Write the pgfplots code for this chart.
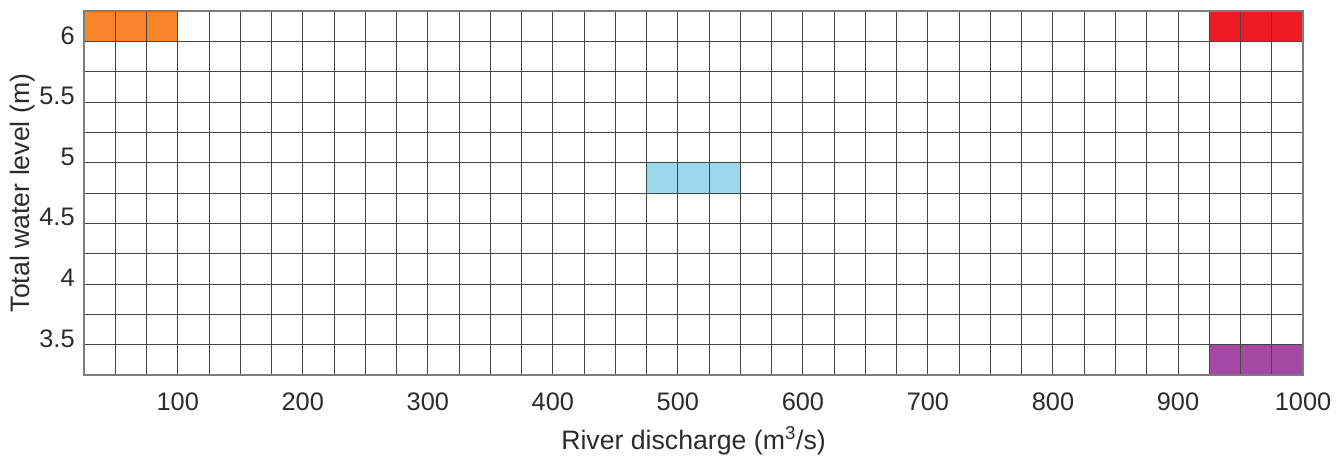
\documentclass[border=0pt]{standalone}
\usepackage{fontspec}
\setmainfont{Liberation Sans}
\usepackage{pgfplots}
\pgfplotsset{compat=1.18}
\definecolor{cellorange}{HTML}{F98328}
\definecolor{cellred}{HTML}{ED1C24}
\definecolor{cellblue}{HTML}{9BD8EA}
\definecolor{cellpurple}{HTML}{A349A4}
\definecolor{gridc}{HTML}{444444}
\definecolor{textc}{HTML}{2B2B2B}
\begin{document}
\begin{tikzpicture}
\begin{axis}[
  scale only axis,
  width=914.25pt, height=273pt,
  xmin=25, xmax=1000, ymin=3.25, ymax=6.25,
  xtick={100,200,...,1000},
  ytick={3.5,4,4.5,5,5.5,6},
  minor xtick={25,50,...,1000},
  minor ytick={3.25,3.5,3.75,4,4.25,4.5,4.75,5,5.25,5.5,5.75,6,6.25},
  grid=both,
  major grid style={gridc, line width=0.7pt},
  minor grid style={gridc, line width=0.7pt},
  major tick length=0pt, minor tick length=0pt,
  axis line style={gridc!70, line width=0.9pt},
  axis on top,
  /pgf/number format/assume math mode=true,
  /pgf/number format/set thousands separator={},
  tick label style={font=\fontsize{19}{23}\selectfont, text=textc},
  xticklabel style={yshift=-10pt},
  yticklabel style={xshift=-3.5pt, yshift=4.5pt},
  label style={font=\fontsize{20}{24}\selectfont, text=textc},
  xlabel style={yshift=-4.5pt},
  ylabel style={yshift=-3.5pt},
  xlabel={River discharge (m\textsuperscript{3}/s)},
  ylabel={Total water level (m)},
]
% highlighted cells
\addplot[fill=cellorange, draw=none] coordinates {(25,6) (100,6) (100,6.25) (25,6.25)} -- cycle;
\addplot[fill=cellred, draw=none] coordinates {(925,6) (1000,6) (1000,6.25) (925,6.25)} -- cycle;
\addplot[fill=cellblue, draw=none] coordinates {(475,4.75) (550,4.75) (550,5) (475,5)} -- cycle;
\addplot[fill=cellpurple, draw=none] coordinates {(925,3.25) (1000,3.25) (1000,3.5) (925,3.5)} -- cycle;
\end{axis}
\pgfresetboundingbox
\path[use as bounding box] ([xshift=-63pt,yshift=-61.5pt]current axis.south west) rectangle ([xshift=27pt,yshift=8.25pt]current axis.north east);
\end{tikzpicture}
\end{document}
